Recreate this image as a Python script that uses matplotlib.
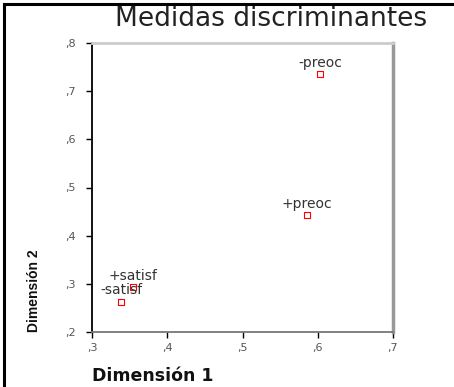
import matplotlib.pyplot as plt
from matplotlib.lines import Line2D
from matplotlib.ticker import FuncFormatter

# datos
etiquetas = ['-preoc', '+preoc', '+satisf', '-satisf']
dim1 = [0.603, 0.586, 0.355, 0.339]
dim2 = [0.736, 0.443, 0.294, 0.263]

xticks = [0.3, 0.4, 0.5, 0.6, 0.7]
yticks = [0.2, 0.3, 0.4, 0.5, 0.6, 0.7, 0.8]

W, H = 454, 387
fig = plt.figure(figsize=(W / 100, H / 100), dpi=100)
ax = fig.add_axes([92 / W, 1 - 332 / H, (393 - 92) / W, (332 - 43) / H])

ax.scatter(dim1, dim2, s=14, marker='s', facecolors='white', edgecolors='red',
           linewidths=0.8, zorder=3, clip_on=False)
for lab, x, y in zip(etiquetas, dim1, dim2):
    ax.annotate(lab, (x, y), xytext=(0, 3), textcoords='offset points',
                ha='center', va='bottom', fontsize=10, color='#333333',
                family='DejaVu Sans')

ax.set_xlim(0.3, 0.7)
ax.set_ylim(0.2, 0.8)
ax.set_xticks(xticks)
ax.set_yticks(yticks)

fmt = FuncFormatter(lambda v, p: ',' + f'{v:.1f}'.split('.')[1])
ax.xaxis.set_major_formatter(fmt)
ax.yaxis.set_major_formatter(fmt)
ax.tick_params(axis='both', direction='out', length=4, width=1, color='black',
               labelsize=8, labelcolor='#555555')
ax.tick_params(axis='x', pad=4)
ax.tick_params(axis='y', pad=8)

ax.spines['left'].set_color('black')
ax.spines['left'].set_linewidth(1.3)
ax.spines['bottom'].set_color('#777777')
ax.spines['bottom'].set_linewidth(1.3)
ax.spines['top'].set_color('#cccccc')
ax.spines['top'].set_linewidth(2)
ax.spines['right'].set_color('#999999')
ax.spines['right'].set_linewidth(2.5)

fig.text(271 / W, 1 - 19 / H, 'Medidas discriminantes', ha='center', va='center',
         fontsize=19, family='DejaVu Sans', color='#222222')
fig.text(92 / W, 1 - 376 / H, 'Dimensión 1', ha='left', va='center',
         fontsize=12.5, fontweight='bold', family='DejaVu Sans', color='#111111')
fig.text(34 / W, 1 - 332 / H, 'Dimensión 2', ha='center', va='bottom',
         rotation=90, fontsize=10, fontweight='bold', family='Liberation Sans',
         color='#111111')

# marco negro (izquierda y arriba)
fig.add_artist(Line2D([4 / W, 4 / W], [0, 1 - 4 / H], color='black', lw=2.2))
fig.add_artist(Line2D([4 / W, 1], [1 - 4 / H, 1 - 4 / H], color='black', lw=2.2))

fig.savefig('out.png', dpi=100)
